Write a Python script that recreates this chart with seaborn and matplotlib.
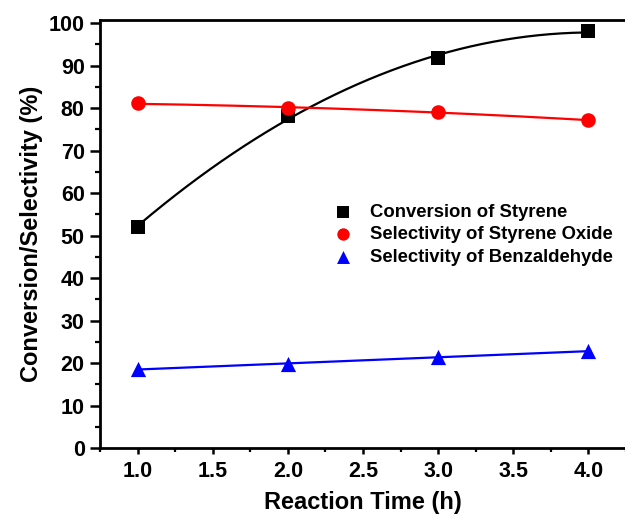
import numpy as np
import pandas as pd
import matplotlib
matplotlib.use("Agg")
import matplotlib.pyplot as plt
from matplotlib.ticker import MultipleLocator
import seaborn as sns

time_h = [1.0, 2.0, 3.0, 4.0]
conversion = [52.0, 78.2, 91.7, 98.1]
sel_oxide = [81.1, 80.0, 79.2, 77.1]
sel_benz = [18.5, 19.9, 21.4, 22.8]
labels = ["Conversion of Styrene", "Selectivity of Styrene Oxide", "Selectivity of Benzaldehyde"]
colors = ["black", "red", "blue"]
markers = ["s", "o", "^"]
sizes = [95, 110, 120]

sns.set_style("ticks")
plt.rcParams['font.family'] = ['Liberation Sans', 'DejaVu Sans']
plt.rcParams['font.weight'] = 'bold'
plt.rcParams['text.color'] = 'black'
plt.rcParams['axes.labelcolor'] = 'black'
plt.rcParams['xtick.color'] = 'black'
plt.rcParams['ytick.color'] = 'black'
plt.rcParams['axes.edgecolor'] = 'black'

fig = plt.figure(figsize=(6.25, 5.18), dpi=100)
ax = fig.add_axes([0.16, 0.135, 0.8416, 0.826])

series = [conversion, sel_oxide, sel_benz]
xs = np.linspace(1.0, 4.0, 200)
for vals, lab, col, mk, sz in zip(series, labels, colors, markers, sizes):
    coef = np.polyfit(time_h, vals, 2)
    fit = pd.DataFrame({"x": xs, "y": np.polyval(coef, xs)})
    sns.lineplot(data=fit, x="x", y="y", ax=ax, color=col, lw=1.6, legend=False)
    df = pd.DataFrame({"x": time_h, "y": vals})
    sns.scatterplot(data=df, x="x", y="y", ax=ax, color=col, marker=mk, s=sz,
                    edgecolor=col, linewidth=0, label=lab, zorder=5)

ax.set_xlim(0.75, 4.25)
ax.set_ylim(0, 100.7)
ax.xaxis.set_minor_locator(MultipleLocator(0.25))
ax.yaxis.set_major_locator(MultipleLocator(10))
ax.yaxis.set_minor_locator(MultipleLocator(5))
ax.set_xticks([1.0, 1.5, 2.0, 2.5, 3.0, 3.5, 4.0])
ax.set_xticklabels(["1.0", "1.5", "2.0", "2.5", "3.0", "3.5", "4.0"])
ax.tick_params(axis='x', which='major', direction='out', length=4.5, width=1.8,
               labelsize=15.5, pad=5, top=False, color='black', labelcolor='black')
ax.tick_params(axis='x', which='minor', direction='out', length=3, width=1.6, top=False,
               color='black')
ax.tick_params(axis='y', which='major', direction='out', length=7, width=1.8,
               labelsize=15.5, pad=4, right=False, color='black', labelcolor='black')
ax.tick_params(axis='y', which='minor', direction='out', length=3.5, width=1.6, right=False,
               color='black')
for lbl in ax.get_xticklabels() + ax.get_yticklabels():
    lbl.set_fontweight('bold')
for sp in ax.spines.values():
    sp.set_linewidth(2)
    sp.set_color('black')
    sp.set_visible(True)
ax.set_xlabel("Reaction Time (h)", fontsize=17, fontweight='bold', labelpad=6, color='black')
ax.set_ylabel("Conversion/Selectivity (%)", fontsize=17, fontweight='bold', labelpad=4,
              color='black')

leg = ax.legend(loc='upper left', bbox_to_anchor=(0.507, 0.639),
                bbox_transform=fig.transFigure, frameon=False,
                prop={'weight': 'bold', 'size': 13.3}, handlelength=1.0,
                handletextpad=1.0, labelspacing=0.3, markerscale=0.85)
for t in leg.get_texts():
    t.set_color('black')

fig.savefig("out.png", dpi=100)
